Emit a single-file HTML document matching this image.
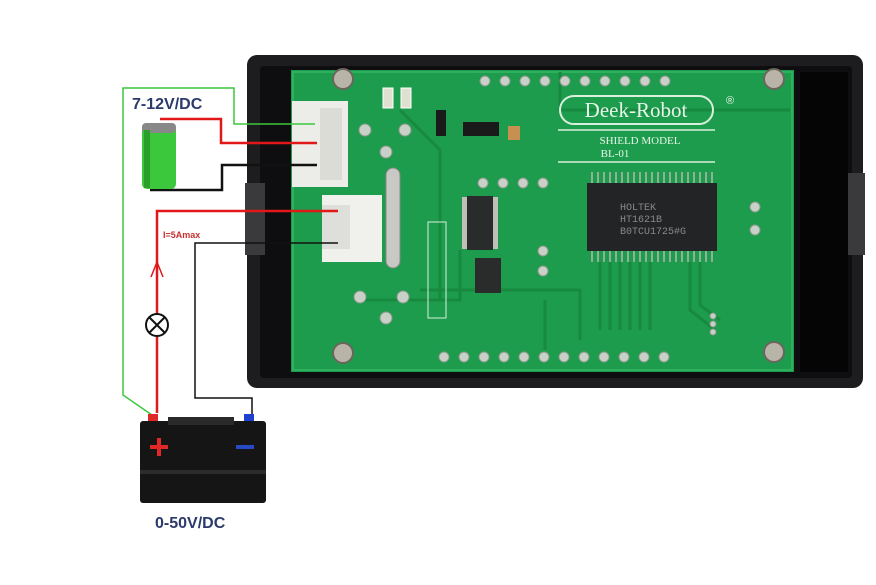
<!DOCTYPE html>
<html><head><meta charset="utf-8"><style>
html,body{margin:0;padding:0;background:#fff;width:876px;height:585px;overflow:hidden}
svg{display:block}
</style></head><body>
<svg width="876" height="585" viewBox="0 0 876 585" xmlns="http://www.w3.org/2000/svg">
<!-- case -->
<rect x="247" y="55" width="616" height="333" rx="10" fill="#1d1d1f"/>
<rect x="260" y="66" width="592" height="312" rx="4" fill="#0e0e10"/>
<rect x="245" y="183" width="20" height="72" fill="#3a3a3c"/>
<rect x="845" y="173" width="20" height="82" fill="#3a3a3c"/>
<rect x="800" y="72" width="48" height="300" fill="#050506"/>
<!-- pcb -->
<rect x="291" y="70" width="503" height="302" fill="#1c9c4c"/>
<rect x="293" y="72" width="499" height="298" fill="none" stroke="#2fb05c" stroke-width="2"/>
<!-- traces -->
<g stroke="#178a40" stroke-width="3" fill="none">
<path d="M560 72 V110 H790"/><path d="M545 300 V350"/><path d="M420 290 H580 V340"/>
<path d="M600 262 V330 M610 262 V330 M620 262 V330 M630 262 V330 M640 262 V330 M650 262 V330"/>
<path d="M690 262 V310 L715 330 M700 262 V305 L720 320"/>
<path d="M400 110 L440 150 V300"/><path d="M360 300 H460 V250"/>
</g>
<!-- pads top/bottom -->
<g fill="#c8d0c8" stroke="#8a9a8a" stroke-width="1">
<circle cx="485" cy="81" r="5"/><circle cx="505" cy="81" r="5"/><circle cx="525" cy="81" r="5"/><circle cx="545" cy="81" r="5"/><circle cx="565" cy="81" r="5"/><circle cx="585" cy="81" r="5"/><circle cx="605" cy="81" r="5"/><circle cx="625" cy="81" r="5"/><circle cx="645" cy="81" r="5"/><circle cx="665" cy="81" r="5"/>
<circle cx="444" cy="357" r="5"/><circle cx="464" cy="357" r="5"/><circle cx="484" cy="357" r="5"/><circle cx="504" cy="357" r="5"/><circle cx="524" cy="357" r="5"/><circle cx="544" cy="357" r="5"/><circle cx="564" cy="357" r="5"/><circle cx="584" cy="357" r="5"/><circle cx="604" cy="357" r="5"/><circle cx="624" cy="357" r="5"/><circle cx="644" cy="357" r="5"/><circle cx="664" cy="357" r="5"/>
<circle cx="365" cy="130" r="6"/><circle cx="405" cy="130" r="6"/><circle cx="386" cy="152" r="6"/>
<circle cx="360" cy="297" r="6"/><circle cx="403" cy="297" r="6"/><circle cx="386" cy="318" r="6"/>
<circle cx="483" cy="183" r="5"/><circle cx="503" cy="183" r="5"/><circle cx="523" cy="183" r="5"/><circle cx="543" cy="183" r="5"/>
<circle cx="543" cy="251" r="5"/><circle cx="543" cy="271" r="5"/>
<circle cx="755" cy="207" r="5"/><circle cx="755" cy="230" r="5"/>
<circle cx="713" cy="316" r="3"/><circle cx="713" cy="324" r="3"/><circle cx="713" cy="332" r="3"/>
</g>
<!-- screws -->
<g fill="#b8b4a8" stroke="#6a665c" stroke-width="2">
<circle cx="343" cy="79" r="10"/><circle cx="774" cy="79" r="10"/><circle cx="343" cy="353" r="10"/><circle cx="774" cy="352" r="10"/>
</g>
<!-- logo -->
<rect x="560" y="96" width="153" height="28" rx="14" fill="none" stroke="#d8f0dc" stroke-width="2"/>
<text x="636" y="117" text-anchor="middle" font-family="Liberation Serif,serif" font-size="21" fill="#e8f6ea">Deek-Robot</text>
<text x="726" y="104" font-family="Liberation Sans,sans-serif" font-size="11" fill="#e8f6ea">®</text>
<line x1="558" y1="130" x2="715" y2="130" stroke="#d8f0dc" stroke-width="1.5"/>
<line x1="558" y1="162" x2="715" y2="162" stroke="#d8f0dc" stroke-width="1.5"/>
<text x="640" y="144" text-anchor="middle" font-family="Liberation Serif,serif" font-size="11" fill="#e8f6ea">SHIELD MODEL</text>
<text x="615" y="157" text-anchor="middle" font-family="Liberation Serif,serif" font-size="11" fill="#e8f6ea">BL-01</text>
<!-- chips -->
<g stroke="#b8b8b0" stroke-width="1.5">
<path d="M592 172 V184 M598 172 V184 M604 172 V184 M610 172 V184 M616 172 V184 M622 172 V184 M628 172 V184 M634 172 V184 M640 172 V184 M646 172 V184 M652 172 V184 M658 172 V184 M664 172 V184 M670 172 V184 M676 172 V184 M682 172 V184 M688 172 V184 M694 172 V184 M700 172 V184 M706 172 V184 M712 172 V184"/>
<path d="M592 250 V262 M598 250 V262 M604 250 V262 M610 250 V262 M616 250 V262 M622 250 V262 M628 250 V262 M634 250 V262 M640 250 V262 M646 250 V262 M652 250 V262 M658 250 V262 M664 250 V262 M670 250 V262 M676 250 V262 M682 250 V262 M688 250 V262 M694 250 V262 M700 250 V262 M706 250 V262 M712 250 V262"/>
</g>
<rect x="587" y="183" width="130" height="68" fill="#222426"/>
<text x="620" y="210" font-family="Liberation Mono,monospace" font-size="10" fill="#8a8a88">HOLTEK</text>
<text x="620" y="222" font-family="Liberation Mono,monospace" font-size="10" fill="#8a8a88">HT1621B</text>
<text x="620" y="234" font-family="Liberation Mono,monospace" font-size="10" fill="#8a8a88">B0TCU1725#G</text>
<rect x="462" y="197" width="36" height="52" fill="#c0c0b8"/><rect x="467" y="196" width="26" height="54" fill="#2a2c2c"/>
<rect x="475" y="258" width="26" height="35" fill="#2a2c2c"/>
<rect x="463" y="122" width="36" height="14" fill="#1a1a1a"/><rect x="436" y="110" width="10" height="26" fill="#1a1a1a"/>
<rect x="508" y="126" width="12" height="14" fill="#c89050"/>
<rect x="383" y="88" width="10" height="20" fill="#e0e0d0" stroke="#fff"/><rect x="401" y="88" width="10" height="20" fill="#e0e0d0" stroke="#fff"/>
<rect x="428" y="222" width="18" height="96" fill="none" stroke="#d8f0dc" stroke-width="1"/>
<!-- crystal -->
<rect x="386" y="168" width="14" height="100" rx="7" fill="#c8c8c4" stroke="#888" stroke-width="1"/>
<!-- connectors -->
<rect x="292" y="101" width="56" height="86" fill="#ecece8"/>
<rect x="320" y="108" width="22" height="72" fill="#dcdcd6"/>
<rect x="322" y="195" width="60" height="67" fill="#f0f0ec"/>
<rect x="322" y="205" width="28" height="44" fill="#dededa"/>
<!-- wires -->
<g fill="none" stroke-width="2">
<path d="M152 415 L123 395 V88 H234 V124 H315" stroke="#3cc83c" stroke-width="1.5"/>
<path d="M160 119 H221 V143 H317" stroke="#e01818" stroke-width="2.5"/>
<path d="M150 190 H222 V165 H317" stroke="#111" stroke-width="2.5"/>
<path d="M157 413 V211 H338" stroke="#e01818" stroke-width="2.5"/>
<path d="M252 415 V398 H195 V243 H338" stroke="#111" stroke-width="1.5"/>
<path d="M151 277 L157 262 L163 277" stroke="#e01818" stroke-width="1.5"/>
</g>
<circle cx="157" cy="325" r="11" fill="#fff" stroke="#111" stroke-width="2"/>
<path d="M149 317 L165 333 M165 317 L149 333" stroke="#111" stroke-width="2"/>
<!-- small battery -->
<rect x="142" y="123" width="34" height="66" rx="5" fill="#3cc83c"/>
<rect x="142" y="123" width="34" height="10" rx="4" fill="#888"/>
<rect x="144" y="130" width="6" height="58" fill="#2aa02a"/>
<!-- big battery -->
<rect x="148" y="414" width="10" height="10" fill="#e02828"/>
<rect x="244" y="414" width="10" height="10" fill="#2040d0"/>
<rect x="140" y="421" width="126" height="82" rx="3" fill="#151515"/>
<rect x="168" y="417" width="66" height="8" fill="#2a2a2a"/>
<rect x="140" y="470" width="126" height="4" fill="#2c2c2c"/>
<path d="M150 447 H168 M159 438 V456" stroke="#e02828" stroke-width="4"/>
<path d="M236 447 H254" stroke="#2848c8" stroke-width="4"/>
<!-- labels -->
<text x="132" y="109" font-family="Liberation Sans,sans-serif" font-weight="bold" font-size="16" fill="#2a3a6a">7-12V/DC</text>
<text x="163" y="238" font-family="Liberation Sans,sans-serif" font-weight="bold" font-size="9" fill="#c83030">I=5Amax</text>
<text x="155" y="528" font-family="Liberation Sans,sans-serif" font-weight="bold" font-size="16" fill="#2a3a6a">0-50V/DC</text>
</svg>
</body></html>
